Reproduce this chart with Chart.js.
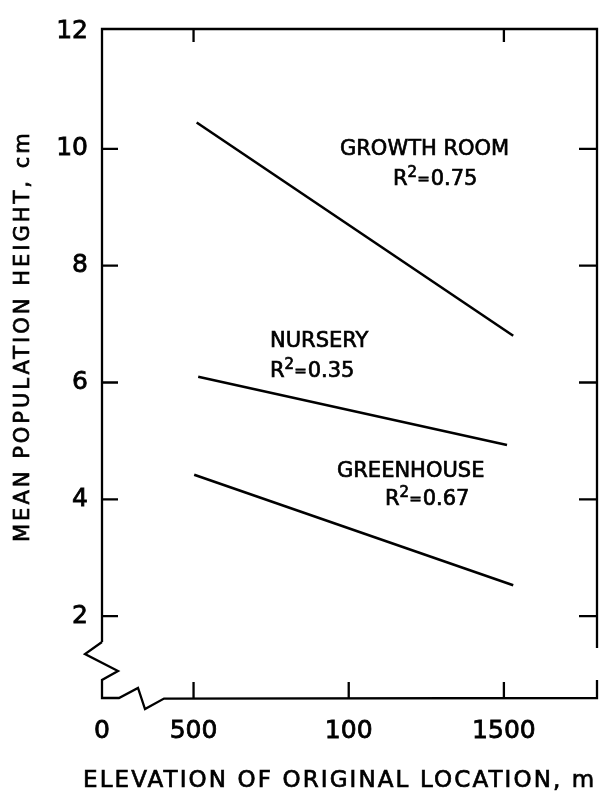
<!DOCTYPE html>
<html>
<head>
<meta charset="utf-8">
<script src="https://cdn.jsdelivr.net/npm/chart.js@4.4.1/dist/chart.umd.min.js"></script>
<style>
  html, body { margin: 0; padding: 0; background: #fff; }
  #wrap { width: 599px; height: 793px; }
</style>
</head>
<body>
<div id="wrap"><canvas id="heightChart"></canvas></div>
<script>
// elevation (m) and mean height (cm) at both ends of each regression line
const growthRoomX = [510, 1530];
const growthRoomY = [10.45, 6.8];
const nurseryX = [515, 1510];
const nurseryY = [6.1, 4.93];
const greenhouseX = [502, 1530];
const greenhouseY = [4.42, 2.53];

// axis ticks; the x axis is broken between 0 and 500
const xTickValues = [205, 500, 1000, 1500];
const xTickLabels = ['0', '500', '100', '1500'];
const yTickValues = [2, 4, 6, 8, 10, 12];

const FONT = '"DejaVu Sans", sans-serif';

function toPoints(xs, ys) {
	return xs.map(function(x, i) { return { x: x, y: ys[i] }; });
}

function lineSet(label, xs, ys) {
	return {
		label: label,
		data: toPoints(xs, ys),
		showLine: true,
		borderColor: '#000',
		borderWidth: 2.6,
		pointRadius: 0,
		fill: false
	};
}

// fill plus a thin stroke, so the lettering is as heavy as the drawing
function heavyText(ctx, text, x, y) {
	ctx.fillText(text, x, y);
	ctx.strokeText(text, x, y);
}

// R^2 label with a raised 2
function drawRSquared(ctx, x, y, value) {
	ctx.font = '21px ' + FONT;
	heavyText(ctx, 'R', x, y);
	let w = ctx.measureText('R').width;
	ctx.font = '15px ' + FONT;
	heavyText(ctx, '2', x + w, y - 8);
	w += ctx.measureText('2').width;
	heavyText(ctx, '=', x + w, y - 1);
	w += ctx.measureText('=').width + 1;
	ctx.font = '21px ' + FONT;
	heavyText(ctx, value, x + w, y);
}

// frame with the axis breaks, inward ticks, notes and axis titles
const framePlugin = {
	id: 'frame',
	afterDraw: function(chart) {
		const ctx = chart.ctx;
		const a = chart.chartArea;
		const xs = chart.scales.x;
		const ys = chart.scales.y;
		const L = a.left, R = a.right, T = a.top, B = a.bottom;

		ctx.save();
		ctx.strokeStyle = '#000';
		ctx.lineWidth = 2.3;
		ctx.lineJoin = 'miter';
		ctx.beginPath();
		ctx.moveTo(L, B - 56);
		ctx.lineTo(L, T);
		ctx.lineTo(R, T);
		ctx.lineTo(R, B - 50);
		ctx.moveTo(R, B - 18);
		ctx.lineTo(R, B);
		ctx.lineTo(L + 62, B + 0.6);
		ctx.lineTo(L + 43, B + 11);
		ctx.lineTo(L + 36, B - 10);
		ctx.lineTo(L + 17, B);
		ctx.lineTo(L, B);
		ctx.lineTo(L, B - 18);
		ctx.lineTo(L + 16, B - 27);
		ctx.lineTo(L - 17, B - 44);
		ctx.lineTo(L, B - 56);
		ctx.stroke();

		ctx.beginPath();
		yTickValues.slice(0, 5).forEach(function(v) {
			const py = ys.getPixelForValue(v);
			ctx.moveTo(L, py); ctx.lineTo(L + 16, py);
			ctx.moveTo(R, py); ctx.lineTo(R - 18, py);
		});
		xTickValues.slice(1).forEach(function(v) {
			const px = xs.getPixelForValue(v);
			ctx.moveTo(px, B); ctx.lineTo(px, B - 16);
		});
		[500, 1500].forEach(function(v) {
			const px = xs.getPixelForValue(v);
			ctx.moveTo(px, T); ctx.lineTo(px, T + 13);
		});
		ctx.stroke();

		ctx.fillStyle = '#000';
		ctx.lineWidth = 0.7;
		ctx.textAlign = 'left';
		ctx.textBaseline = 'alphabetic';
		ctx.font = '21px ' + FONT;
		heavyText(ctx, 'GROWTH ROOM', 340, 155);
		drawRSquared(ctx, 393, 185, '0.75');
		ctx.font = '21px ' + FONT;
		heavyText(ctx, 'NURSERY', 270, 347);
		drawRSquared(ctx, 270, 377, '0.35');
		ctx.font = '21px ' + FONT;
		heavyText(ctx, 'GREENHOUSE', 337, 477);
		drawRSquared(ctx, 385, 505, '0.67');

		ctx.font = '23px ' + FONT;
		ctx.letterSpacing = '2.1px';
		heavyText(ctx, 'ELEVATION OF ORIGINAL LOCATION, m', 83, 787);

		ctx.translate(29, 542);
		ctx.rotate(-Math.PI / 2);
		ctx.font = '21px ' + FONT;
		ctx.letterSpacing = '3px';
		heavyText(ctx, 'MEAN POPULATION HEIGHT, cm', 0, 0);
		ctx.restore();
	}
};

new Chart(document.getElementById('heightChart'), {
	type: 'scatter',
	data: {
		datasets: [
			lineSet('Growth room', growthRoomX, growthRoomY),
			lineSet('Nursery', nurseryX, nurseryY),
			lineSet('Greenhouse', greenhouseX, greenhouseY)
		]
	},
	options: {
		responsive: true,
		maintainAspectRatio: false,
		animation: false,
		layout: { padding: { top: 24, right: 2, left: 0, bottom: 0 } },
		plugins: {
			legend: { display: false },
			tooltip: { enabled: false }
		},
		scales: {
			x: {
				type: 'linear',
				min: 205,
				max: 1800,
				grid: { display: false, drawTicks: false },
				border: { display: false },
				afterBuildTicks: function(scale) {
					scale.ticks = xTickValues.map(function(v) { return { value: v }; });
				},
				afterFit: function(scale) { scale.height = 95; },
				ticks: {
					autoSkip: false,
					maxRotation: 0,
					padding: 18,
					color: '#000',
					textStrokeColor: '#000',
					textStrokeWidth: 0.8,
					font: { family: FONT, size: 25 },
					callback: function(value, index) { return xTickLabels[index]; }
				}
			},
			y: {
				min: 0.6,
				max: 12.05,
				grid: { display: false, drawTicks: false },
				border: { display: false },
				afterBuildTicks: function(scale) {
					scale.ticks = yTickValues.map(function(v) { return { value: v }; });
				},
				afterFit: function(scale) { scale.width = 102; },
				ticks: {
					padding: 14,
					color: '#000',
					textStrokeColor: '#000',
					textStrokeWidth: 0.8,
					font: { family: FONT, size: 25 },
					callback: function(value) { return String(value); }
				}
			}
		}
	},
	plugins: [framePlugin]
});
</script>
</body>
</html>
